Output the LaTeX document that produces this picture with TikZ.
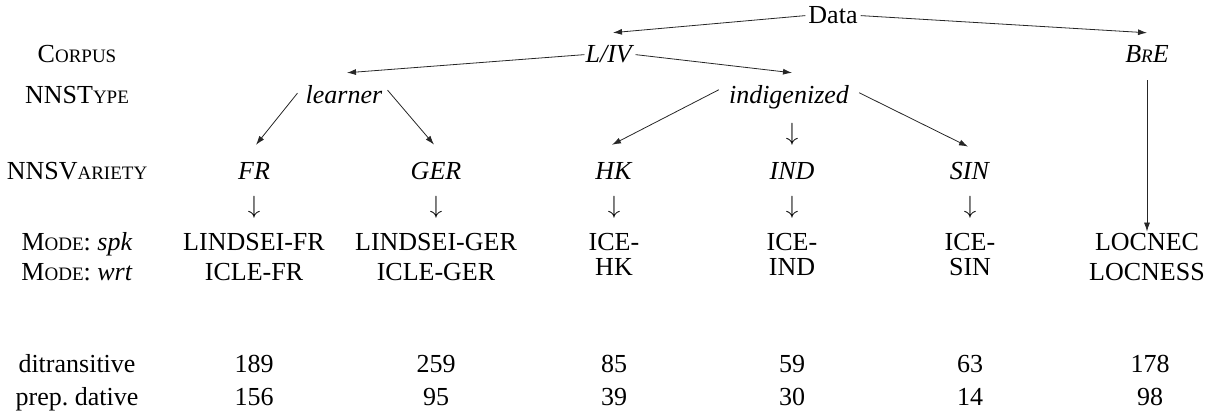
\documentclass[tikz,border=0pt]{standalone}
\usepackage{fontspec}
\setmainfont{Liberation Serif}
\usetikzlibrary{arrows.meta}
\newcommand{\fsc}[2]{#1{\fontsize{19}{19}\selectfont #2}}
\begin{document}
\begin{tikzpicture}[x=1pt,y=-1pt,
  t/.style={anchor=base, inner sep=0pt, font=\fontsize{26}{30}\selectfont},
  dn/.style={anchor=center, inner sep=0pt, font=\fontsize{32}{32}\selectfont},
  arr/.style={-{Latex[length=9pt,width=6pt]}, line width=0.8pt, draw=black!85}]
\useasboundingbox (0,0) rectangle (1211,417);
% row labels
\node[t] (lcorpus) at (77,63) {\fsc{C}{ORPUS}};
\node[t] (ltype) at (77,104) {\fsc{NNST}{YPE}};
\node[t] (lvar) at (77,180) {\fsc{NNSV}{ARIETY}};
\node[t] (lspk) at (77,251) {\fsc{M}{ODE}: \textit{spk}};
\node[t] (lwrt) at (77,280) {\fsc{M}{ODE}: \textit{wrt}};
\node[t] (lditr) at (77,372) {ditransitive};
\node[t] (lprep) at (77,405) {prep.\ dative};
% tree
\node[t, inner xsep=3pt] (data) at (833,24) {Data};
\node[t, inner xsep=1pt] (liv) at (610,63) {\textit{L/IV}};
\node[t] (bre) at (1147,63) {\textit{B{\fontsize{19}{19}\selectfont R}E}};
\node[t] (learner) at (344,104) {\textit{learner}};
\node[t] (indig) at (789,104) {\textit{indigenized}};
\node[dn] (dind0) at (792,134) {$\downarrow$};
\node[t] (fr) at (254,180) {\textit{FR}};
\node[t] (ger) at (436,180) {\textit{GER}};
\node[t] (hk) at (614,180) {\textit{HK}};
\node[t] (ind) at (792,180) {\textit{IND}};
\node[t] (sin) at (970,180) {\textit{SIN}};
\node[dn] (dfr) at (254,207) {$\downarrow$};
\node[dn] (dger) at (436,207) {$\downarrow$};
\node[dn] (dhk) at (614,207) {$\downarrow$};
\node[dn] (dind) at (792,207) {$\downarrow$};
\node[dn] (dsin) at (970,207) {$\downarrow$};
% corpora
\node[t] (lfr) at (254,251) {LINDSEI-FR};
\node[t] (lger) at (436,251) {LINDSEI-GER};
\node[t] (ihk1) at (614,251) {ICE-};
\node[t] (iind1) at (792,251) {ICE-};
\node[t] (isin1) at (970,251) {ICE-};
\node[t] (locnec) at (1147,251) {LOCNEC};
\node[t] (ifr) at (254,280) {ICLE-FR};
\node[t] (iger) at (436,280) {ICLE-GER};
\node[t] (ihk2) at (614,275) {HK};
\node[t] (iind2) at (792,275) {IND};
\node[t] (isin2) at (970,275) {SIN};
\node[t] (locness) at (1147,280) {LOCNESS};
% numbers
\node[t] (n11) at (254,372) {189};
\node[t] (n12) at (436,372) {259};
\node[t] (n13) at (614,372) {85};
\node[t] (n14) at (792,372) {59};
\node[t] (n15) at (970,372) {63};
\node[t] (n16) at (1150,372) {178};
\node[t] (n21) at (254,405) {156};
\node[t] (n22) at (436,405) {95};
\node[t] (n23) at (614,405) {39};
\node[t] (n24) at (792,405) {30};
\node[t] (n25) at (970,405) {14};
\node[t] (n26) at (1150,405) {98};
% connectors
\draw[arr] (data.west) -- ([xshift=3pt,yshift=13pt]liv.north);
\draw[arr] (data.east) -- ([yshift=13pt]bre.north);
\draw[arr] (liv.west) -- ([xshift=3pt,yshift=13pt]learner.north);
\draw[arr] (liv.east) -- ([xshift=3pt,yshift=13pt]indig.north);
\draw[arr] ([xshift=-8pt,yshift=2pt]learner.west) -- ([xshift=2pt,yshift=18pt]fr.north);
\draw[arr] ([xshift=5pt,yshift=5pt]learner.east) -- ([xshift=-2pt,yshift=18pt]ger.north);
\draw[arr] ([xshift=-10pt,yshift=8pt]indig.west) -- ([xshift=-2pt,yshift=18pt]hk.north);
\draw[arr] ([xshift=10pt,yshift=5pt]indig.east) -- ([xshift=-2pt,yshift=16pt]sin.north);
\draw[arr] ([yshift=-17pt]bre.south) -- ([yshift=2pt]locnec.north);
\end{tikzpicture}
\end{document}
